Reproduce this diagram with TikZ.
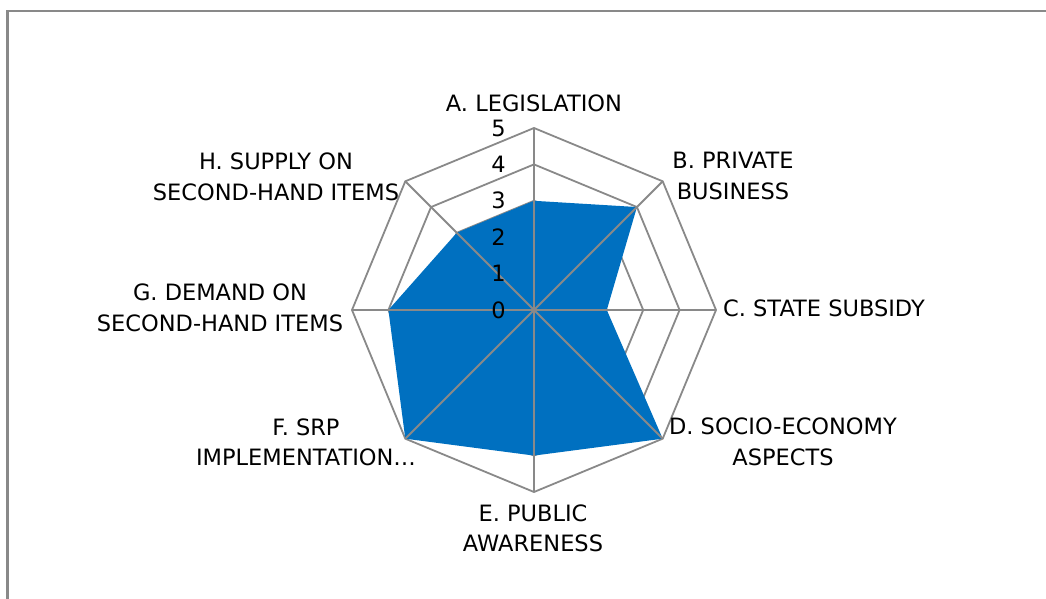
\documentclass[tikz,border=0pt]{standalone}
\usepackage{fontspec}
\setmainfont{DejaVu Sans}
\definecolor{gridgray}{RGB}{137,137,137}
\definecolor{areablue}{RGB}{0,112,192}
\begin{document}
\begin{tikzpicture}[x=1pt,y=1pt]
	\tikzset{grid/.style = {draw=gridgray, line width=1.8pt},
		axislabel/.style = {align=center, inner sep=0pt, font=\fontsize{22.5}{30.5}\selectfont},
		ticklabel/.style = {anchor=east, inner sep=0pt, font=\fontsize{22.5}{27}\selectfont}}

	\useasboundingbox (-534,-289) rectangle (512,310);
	\draw[gridgray, line width=2.5pt] (-526.5,-289) -- (-526.5,299) -- (512,299);

	% axis ends (value 5) and data points
	\coordinate (O) at (0,0);
	\coordinate (A) at (90:182);
	\coordinate (B) at (45:182);
	\coordinate (C) at (0:182);
	\coordinate (D) at (-45:182);
	\coordinate (E) at (-90:182);
	\coordinate (F) at (-135:182);
	\coordinate (G) at (180:182);
	\coordinate (H) at (135:182);

	\coordinate (pA) at (90:109.2);
	\coordinate (pB) at (45:145.6);
	\coordinate (pC) at (0:72.8);
	\coordinate (pD) at (-45:182);
	\coordinate (pE) at (-90:145.6);
	\coordinate (pF) at (-135:182);
	\coordinate (pG) at (180:145.6);
	\coordinate (pH) at (135:109.2);

	\foreach \r in {36.4,72.8,109.2,145.6,182}
		\draw[grid] (90:\r) -- (45:\r) -- (0:\r) -- (-45:\r) -- (-90:\r) -- (-135:\r) -- (180:\r) -- (135:\r) -- cycle;

	\fill[areablue] (pA) -- (pB) -- (pC) -- (pD) -- (pE) -- (pF) -- (pG) -- (pH) -- cycle;

	\foreach \n in {A,...,H}
		\draw[grid] (O) -- (\n);

	\foreach \k in {0,...,5}
		\node[ticklabel] (t\k) at (-28,\k*36.4) {\k};

	\node[axislabel] (lA) at (0,207) {A. LEGISLATION};
	\node[axislabel] (lB) at (199,134) {B. PRIVATE\\BUSINESS};
	\node[axislabel, anchor=west] (lC) at (189,2) {C. STATE SUBSIDY};
	\node[axislabel] (lD) at (249,-132) {D. SOCIO-ECONOMY\\ASPECTS};
	\node[axislabel] (lE) at (-1,-218.5) {E. PUBLIC\\AWARENESS};
	\node[axislabel] (lF) at (-228,-132.5) {F. SRP\\IMPLEMENTATION…};
	\node[axislabel] (lG) at (-314,2) {G. DEMAND ON\\SECOND-HAND ITEMS};
	\node[axislabel] (lH) at (-258,133) {H. SUPPLY ON\\SECOND-HAND ITEMS};

\end{tikzpicture}
\end{document}
